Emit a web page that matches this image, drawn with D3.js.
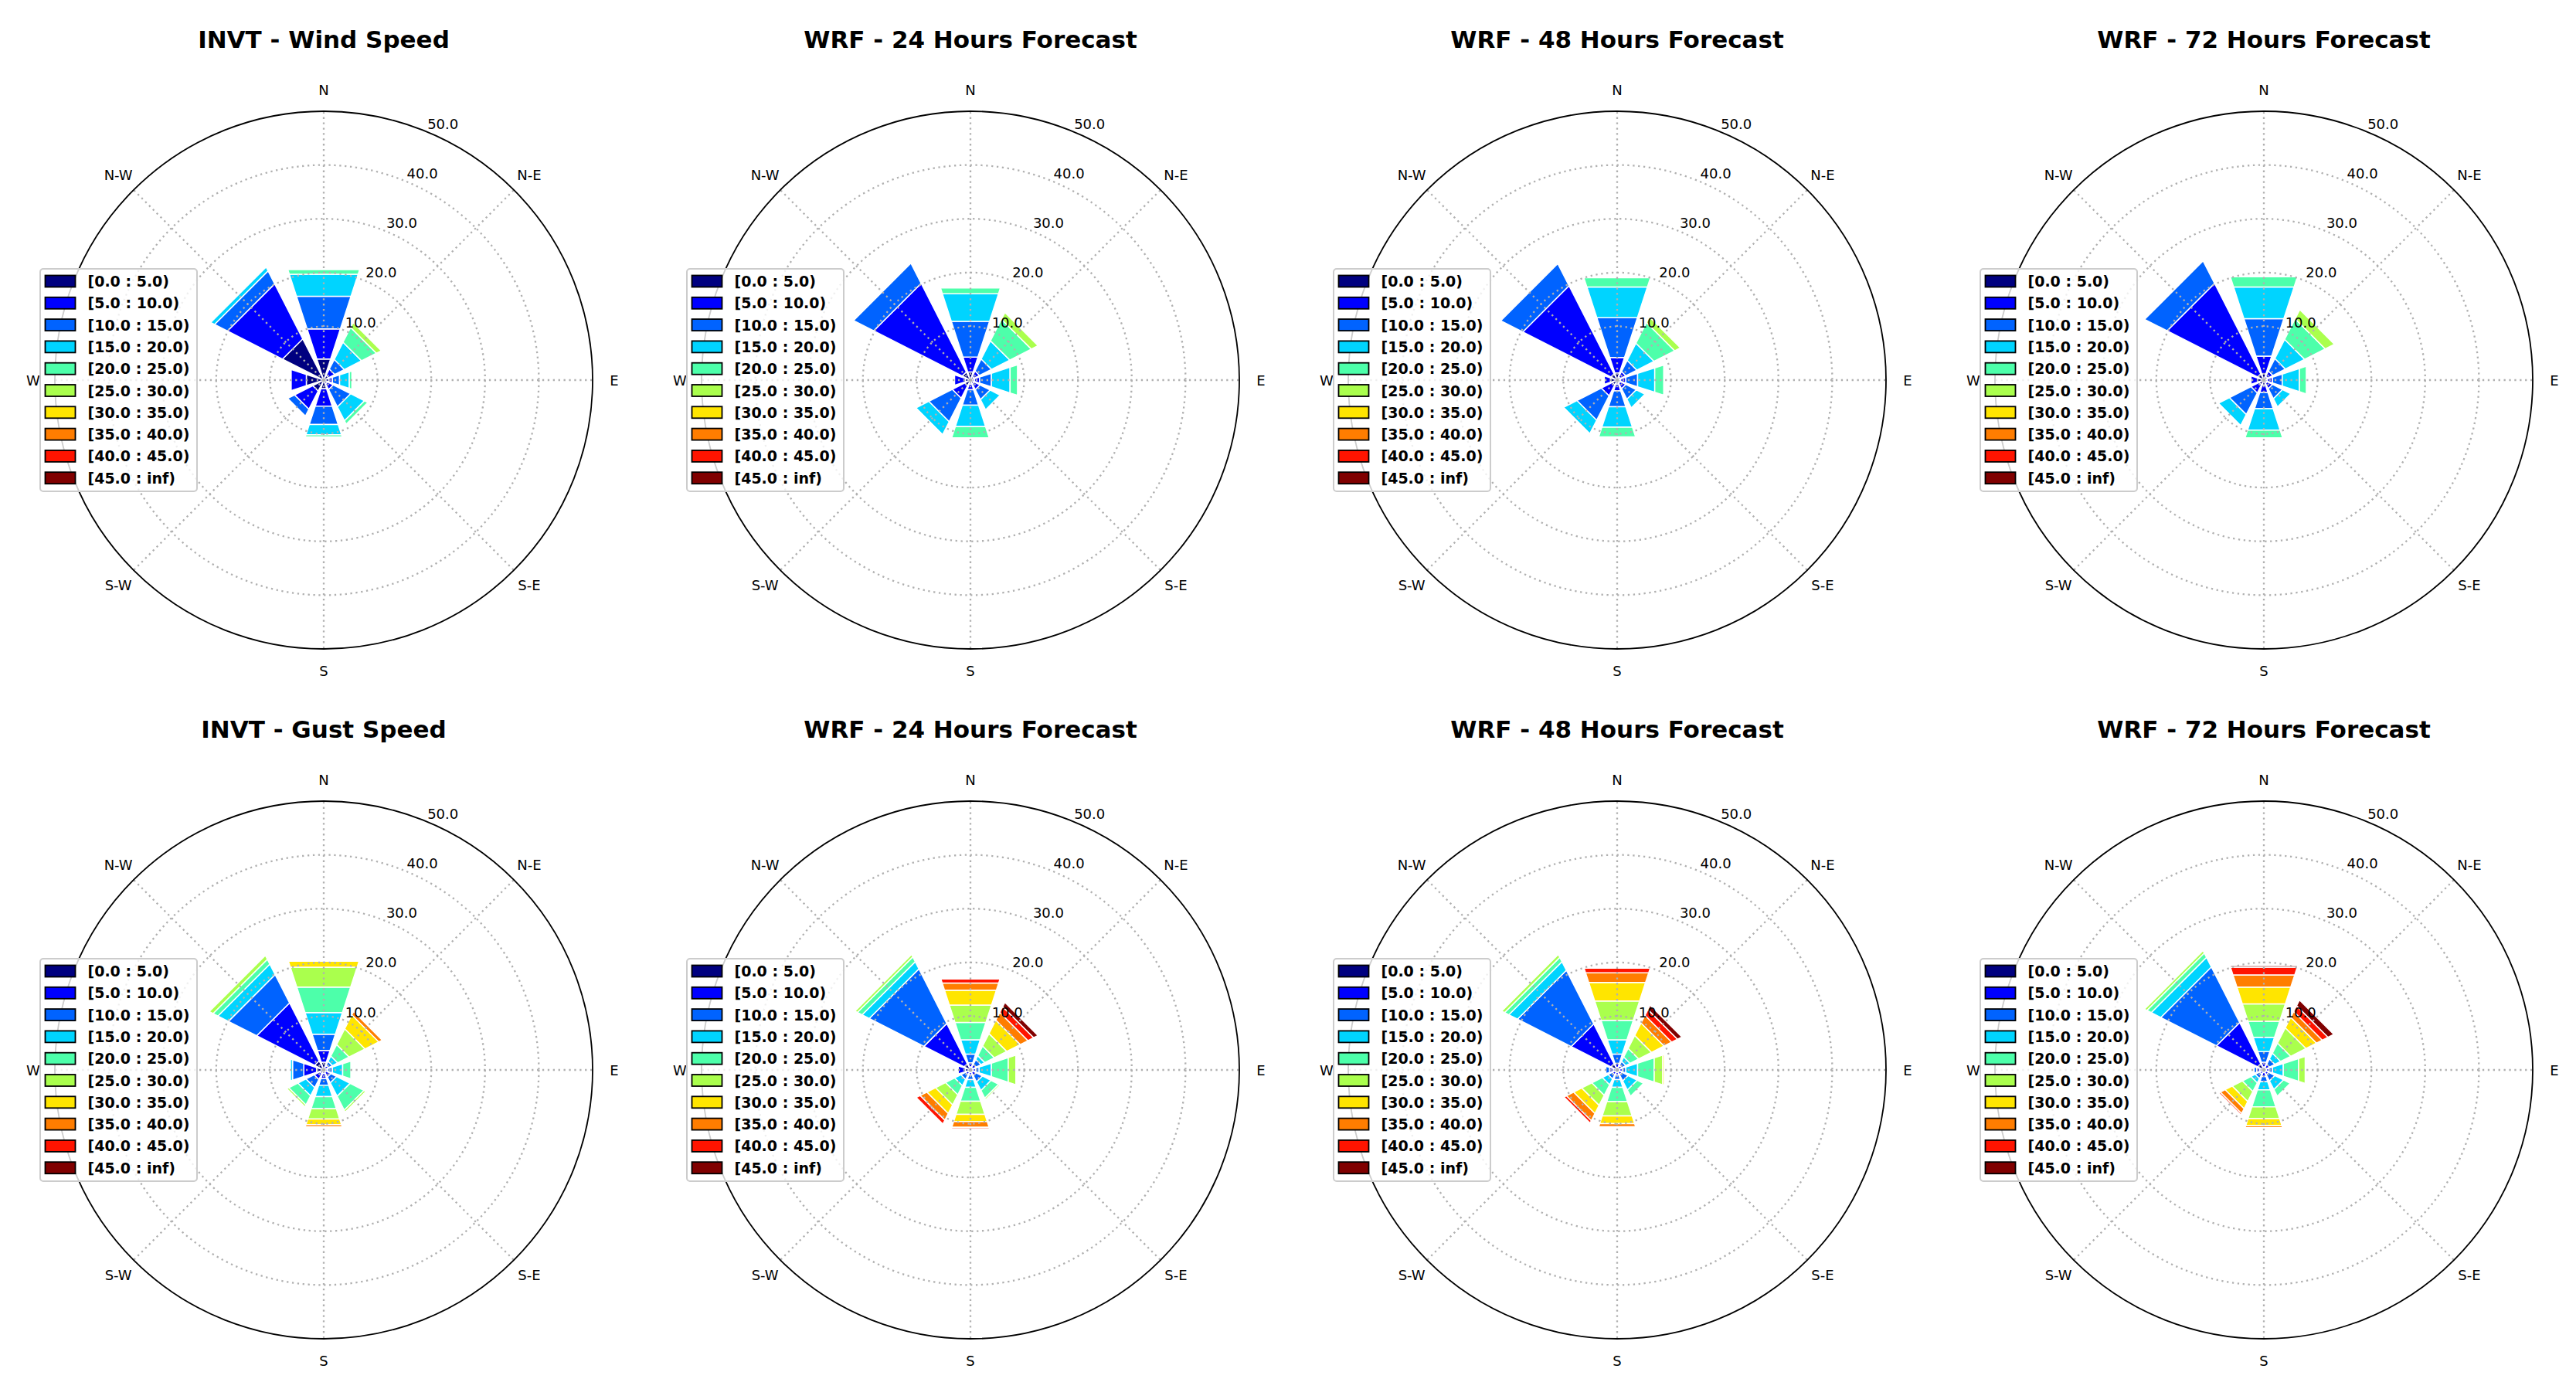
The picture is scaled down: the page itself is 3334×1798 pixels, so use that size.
<!DOCTYPE html>
<html lang="en">
<head>
<meta charset="UTF-8">
<title>Wind roses</title>
<style>
  body { margin: 0; background: #fff; }
  text { font-family: "DejaVu Sans", sans-serif; }
</style>
</head>
<body>
<div id="chart"></div>
<script src="https://d3js.org/d3.v7.min.js"></script>
<script>
// ---- data (frequency %, per direction, per speed bin) ----
const directions = ["N", "N-E", "E", "S-E", "S", "S-W", "W", "N-W"];
const speedBins = ["[0.0 : 5.0)", "[5.0 : 10.0)", "[10.0 : 15.0)", "[15.0 : 20.0)", "[20.0 : 25.0)",
                   "[25.0 : 30.0)", "[30.0 : 35.0)", "[35.0 : 40.0)", "[40.0 : 45.0)", "[45.0 : inf)"];
const binColors = ["#000080", "#0000ff", "#0063ff", "#00d4ff", "#4dffaa",
                   "#aaff4d", "#ffe500", "#ff7d00", "#ff1400", "#800000"];
const radialTicks = [10, 20, 30, 40, 50];
const titles = ["INVT - Wind Speed", "WRF - 24 Hours Forecast", "WRF - 48 Hours Forecast", "WRF - 72 Hours Forecast",
                "INVT - Gust Speed", "WRF - 24 Hours Forecast", "WRF - 48 Hours Forecast", "WRF - 72 Hours Forecast"];

const invtWind = [
  [4.1, 5.9, 6.4, 4.3, 0.9],
  [1.0, 1.3, 2.0, 3.6, 3.1, 1.0],
  [1.0, 0.7, 1.4, 1.9, 0.5],
  [0.8, 1.2, 3.6, 2.9, 0.7],
  [1.7, 3.4, 3.6, 2.0, 0.4],
  [2.3, 3.8, 1.4],
  [3.4, 3.0, 0.2],
  [8.6, 11.5, 2.7, 0.8]
];
const wrf24Wind = [
  [1.6, 2.9, 7.0, 5.4, 1.1],
  [0.8, 1.1, 2.5, 3.8, 4.5, 1.4],
  [0.8, 1.0, 2.3, 3.65, 1.45],
  [0.8, 1.2, 2.1, 2.1],
  [0.8, 1.1, 3.0, 4.2, 2.2],
  [1.2, 2.6, 4.9, 2.7, 0.2],
  [1.0, 2.1],
  [1.7, 18.5, 4.2]
];
const wrf48Wind = [
  [1.4, 3.0, 7.8, 6.0, 1.8],
  [0.7, 1.1, 2.3, 3.6, 4.3, 1.2],
  [0.7, 1.0, 2.3, 3.35, 1.75],
  [0.7, 1.1, 2.2, 1.8],
  [0.8, 1.3, 3.1, 4.0, 1.9],
  [1.0, 2.3, 5.1, 2.8, 0.2],
  [1.3, 1.2],
  [1.3, 18.4, 4.6]
];
const wrf72Wind = [
  [1.2, 3.5, 7.3, 6.2, 2.0],
  [0.8, 1.1, 2.6, 4.0, 4.3, 1.9],
  [0.7, 1.0, 1.9, 3.35, 1.35],
  [0.7, 1.1, 2.1, 1.7],
  [1.0, 1.4, 3.2, 4.2, 1.5],
  [1.0, 1.7, 4.5, 2.3, 0.15],
  [1.2, 1.3],
  [1.3, 18.9, 4.7, 0.2]
];
const invtGust = [
  [1.5, 2.3, 3.2, 4.2, 5.0, 3.9, 1.15],
  [0.4, 0.6, 0.8, 1.1, 2.4, 3.3, 2.9, 0.7],
  [0.4, 0.4, 0.9, 2.0, 1.6],
  [0.5, 1.0, 1.2, 2.8, 2.9, 0.4],
  [0.7, 1.0, 1.3, 2.2, 2.4, 2.0, 1.1, 0.4],
  [0.8, 1.2, 1.7, 1.7, 1.9, 0.4],
  [1.4, 2.5, 2.2, 0.4],
  [1.9, 12.1, 5.9, 2.2, 1.0, 0.8]
];
const wrf24Gust = [
  [0.6, 0.8, 1.7, 2.8, 3.4, 3.4, 2.9, 1.4, 0.8],
  [0.5, 0.7, 1.0, 0.8, 2.0, 2.6, 2.8, 1.6, 1.2, 0.9],
  [0.5, 0.5, 0.7, 2.4, 3.3, 1.5, 0.2],
  [0.5, 0.7, 1.3, 1.8, 1.6, 0.3],
  [0.5, 0.5, 0.9, 1.5, 2.7, 2.6, 1.4, 1.1, 0.3],
  [0.5, 0.5, 1.0, 1.3, 1.9, 2.1, 1.8, 1.4, 0.8],
  [1.0, 1.4, 0.2],
  [1.3, 8.4, 11.4, 1.5, 1.0, 0.5]
];
const wrf48Gust = [
  [0.5, 0.8, 1.8, 2.8, 3.8, 3.8, 3.6, 1.9, 0.9],
  [0.4, 0.6, 0.8, 0.9, 1.8, 2.7, 2.6, 1.6, 1.2, 0.9],
  [0.5, 0.5, 0.7, 2.3, 3.25, 1.65, 0.3],
  [0.5, 0.5, 1.3, 1.9, 1.3],
  [0.5, 0.5, 0.9, 1.5, 2.8, 2.8, 1.5, 0.6],
  [0.5, 0.5, 0.9, 1.2, 2.2, 2.1, 1.7, 1.5, 0.5],
  [0.8, 0.7, 0.7],
  [1.3, 8.3, 11.2, 1.8, 0.9, 0.6]
];
const wrf72Gust = [
  [0.6, 0.9, 2.1, 2.8, 3.1, 3.4, 3.3, 2.4, 1.5, 0.3],
  [0.5, 0.7, 1.1, 1.2, 2.1, 3.2, 2.2, 1.2, 1.2, 1.2],
  [0.5, 0.5, 0.7, 2.1, 3.0, 1.3, 0.2],
  [0.5, 0.5, 1.3, 1.8, 1.4],
  [0.5, 0.8, 1.0, 1.6, 3.3, 2.3, 1.4, 0.4],
  [0.4, 0.5, 0.9, 0.9, 1.8, 2.1, 1.5, 1.0, 0.3],
  [0.8, 0.6, 0.5],
  [1.3, 8.6, 11.6, 2.0, 0.9, 0.5]
];
const panels = [invtWind, wrf24Wind, wrf48Wind, wrf72Wind, invtGust, wrf24Gust, wrf48Gust, wrf72Gust];

// ---- layout ----
const W = 3334, H = 1798;
const colX = [419, 1256, 2093, 2930];
const rowY = [492, 1385];
const R = 348;
const opening = 0.8;            // fraction of the 45 degree sector used by a bar

const svg = d3.select("#chart").append("svg")
    .attr("width", W).attr("height", H);

const rScale = d3.scaleLinear().domain([0, 50]).range([0, R]);
const aScale = d3.scaleLinear().domain([0, directions.length]).range([0, 2 * Math.PI]);
const half = Math.PI / directions.length * opening;

panels.forEach(function(data, p) {
    const cx = colX[p % 4], cy = rowY[Math.floor(p / 4)];
    const g = svg.append("g").attr("transform", `translate(${cx},${cy})`);

    // stacked segments -> flat list
    const segs = [];
    data.forEach(function(vals, di) {
        const cum = [0].concat(Array.from(d3.cumsum(vals)));
        vals.forEach(function(v, bi) {
            segs.push({ dir: di, bin: bi, r0: cum[bi], r1: cum[bi + 1] });
        });
    });

    g.selectAll(".seg").data(segs).enter()
        .append("polygon")
        .attr("class", "seg")
        .attr("points", function(d) {
            const a = aScale(d.dir);
            const pts = [
                d3.pointRadial(a - half, rScale(d.r0)),
                d3.pointRadial(a + half, rScale(d.r0)),
                d3.pointRadial(a + half, rScale(d.r1)),
                d3.pointRadial(a - half, rScale(d.r1))
            ];
            return pts.map(q => q.join(",")).join(" ");
        })
        .attr("fill", d => binColors[d.bin])
        .attr("stroke", "#fff")
        .attr("stroke-width", 1.5);

    // grid
    g.selectAll(".ring").data(radialTicks.slice(0, -1)).enter()
        .append("circle")
        .attr("r", d => rScale(d))
        .attr("fill", "none")
        .attr("stroke", "#b0b0b0")
        .attr("stroke-width", 2.3)
        .attr("stroke-dasharray", "2.3,4.6");

    g.selectAll(".spoke").data(directions).enter()
        .append("line")
        .attr("x1", 0).attr("y1", 0)
        .attr("x2", (d, i) => d3.pointRadial(aScale(i), R)[0])
        .attr("y2", (d, i) => d3.pointRadial(aScale(i), R)[1])
        .attr("stroke", "#b0b0b0")
        .attr("stroke-width", 2.3)
        .attr("stroke-dasharray", "2.3,4.6");

    g.append("circle")
        .attr("r", R)
        .attr("fill", "none")
        .attr("stroke", "#000")
        .attr("stroke-width", 1.8);

    // direction labels
    g.selectAll(".dlab").data(directions).enter()
        .append("text")
        .attr("x", (d, i) => d3.pointRadial(aScale(i), R + 28)[0])
        .attr("y", (d, i) => d3.pointRadial(aScale(i), R + 28)[1])
        .attr("text-anchor", "middle")
        .attr("dominant-baseline", "central")
        .attr("font-size", 18)
        .text(d => d);

    // radial tick labels at 22.5 degrees
    g.selectAll(".rlab").data(radialTicks).enter()
        .append("text")
        .attr("x", d => d3.pointRadial(Math.PI / 8, rScale(d))[0] + 1)
        .attr("y", d => d3.pointRadial(Math.PI / 8, rScale(d))[1] - 4)
        .attr("font-size", 18)
        .text(d => d3.format(".1f")(d));

    // legend
    const lg = g.append("g").attr("transform", "translate(-367,-144)");
    lg.append("rect")
        .attr("width", 203).attr("height", 288)
        .attr("rx", 4)
        .attr("fill", "#fff").attr("fill-opacity", 0.8)
        .attr("stroke", "#cccccc").attr("stroke-width", 2);
    const items = lg.selectAll(".item").data(speedBins).enter()
        .append("g")
        .attr("transform", (d, i) => `translate(6.5,${16 + i * 28.3})`);
    items.append("rect")
        .attr("x", 0).attr("y", -7.5)
        .attr("width", 39).attr("height", 15)
        .attr("fill", (d, i) => binColors[i])
        .attr("stroke", "#000").attr("stroke-width", 1.8);
    items.append("text")
        .attr("x", 55).attr("y", 0)
        .attr("dominant-baseline", "central")
        .attr("font-size", 19)
        .attr("font-weight", "bold")
        .text(d => d);

    // title
    svg.append("text")
        .attr("x", cx).attr("y", cy - 430)
        .attr("text-anchor", "middle")
        .attr("font-size", 31)
        .attr("font-weight", "bold")
        .text(titles[p]);
});
</script>
</body>
</html>
